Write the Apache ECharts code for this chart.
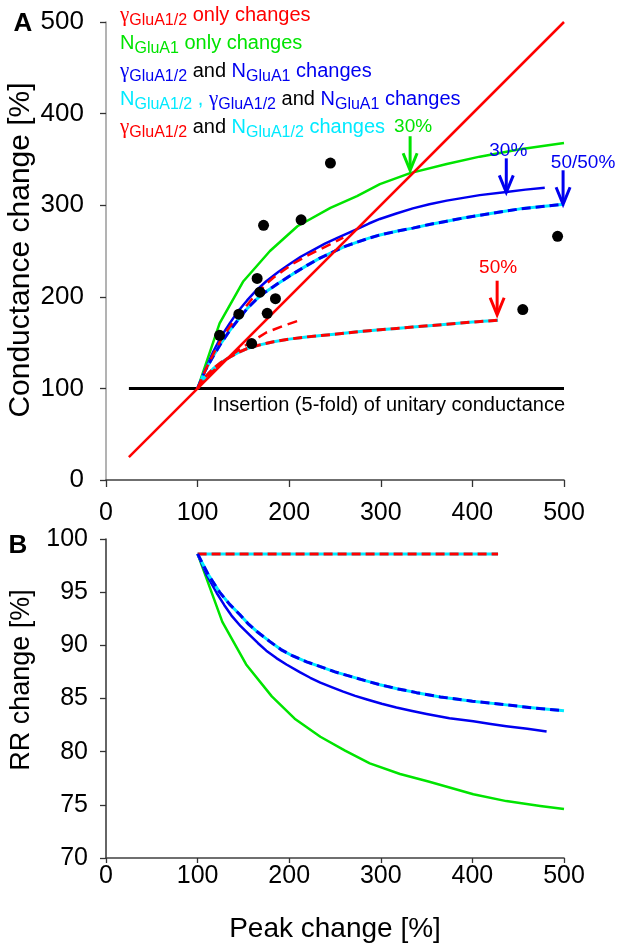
<!DOCTYPE html>
<html><head><meta charset="utf-8">
<script src="https://cdn.jsdelivr.net/npm/echarts@6/dist/echarts.min.js"></script>
<style>html,body{margin:0;padding:0;background:#fff}#c{width:619px;height:948px}</style>
</head><body><div id="c"></div>
<script>
// ---------- data ----------
const identityX = [25, 500];
const baselineX = [25, 500];
const baselineY = [100, 100];

// Panel A: conductance change vs peak change
const greenCond = [[100,100],[124,171],[150,217],[179,250],[209,277],[245,297],[274,310],[299,323],[332,335],[372,345],[408,353],[452,361],[500,368]];
const blueCond = [[100,100],[110,124],[117,140],[126,157],[135,171],[144,184],[154,196],[164,207],[175,217],[188,227],[201,236],[213,244],[226,251],[239,258],[252,264],[263,269],[274,274],[287,280],[299,285],[317,291],[335,296.5],[353,301],[372,305],[390,308],[408,311],[437,314.5],[458,317],[479,319]];
const blueCyanCond = [[100,100],[108,119],[117,135],[126,150],[135,163],[145,176],[154,187],[163,196],[172,204],[181,210],[190,216],[204,225],[219,234],[233,242],[248,249],[261,255],[275,260],[287,264],[299,267.5],[317,271.5],[335,275],[353,279],[372,282.5],[390,286],[408,289],[430,292.5],[452,296],[476,298.5],[500,301]];
const redCyanCond = [[100,100],[108,112],[117,121.5],[126,128.5],[135,134],[144,139],[154,143.5],[168,147.5],[183,151],[200,153.8],[219,156.2],[235,157.8],[252,159.3],[275,161.8],[299,164],[317,165.5],[335,167],[353,168.5],[372,170],[400,172.4],[428,174.5]];
const redShortCond = [[100,100],[107,108.5],[114,116],[122,124],[130,131],[140,138.5],[150,145.5],[162,153],[175,161],[194,168.5],[213,175]];
const redUpperCond = [[100,100],[109,121],[118,139],[126,154],[135,167],[143,178],[150,186],[158,196],[166,205],[175,214],[183,221],[194,229],[204,236],[218,244],[232,251],[246,258],[259,264.5]];
const dots = [[124,158],[145,181],[159,149],[165,220],[168,205],[172,278],[176,182],[185,198],[213,284],[245,346],[455,186],[493,266]];

// arrows (target points in data units) and their labels
const arrowX = [332, 437, 499, 427];
const arrowY = [336, 314, 301, 175];
const arrowLabels = ['30%', '30%', '50/50%', '50%'];

// Panel B: RR change vs peak change
const redCyanRR = [[100,98.6],[428,98.6]];
const greenRR = [[100,98.6],[127,92.2],[153,88.2],[181,85.2],[206,83.1],[234,81.4],[261,80.1],[288,78.9],[321,77.9],[352,77.2],[401,76.0],[437,75.35],[474,74.9],[500,74.6]];
const blueRR = [[100,98.6],[110,96.6],[121,94.9],[129,93.8],[137,92.8],[147,91.8],[157,90.95],[166,90.2],[175,89.5],[186,88.8],[197,88.2],[212,87.45],[223,86.95],[234,86.5],[247,86.05],[259,85.65],[272,85.25],[285,84.9],[301,84.5],[317,84.15],[333,83.85],[350,83.55],[375,83.15],[401,82.85],[420,82.6],[437,82.4],[460,82.15],[481,81.9]];
const blueCyanRR = [[100,98.6],[112,96.6],[124,95.0],[135,93.85],[146,92.9],[155,92.05],[164,91.35],[179,90.35],[191,89.6],[204,89.0],[219,88.45],[234,88.0],[250,87.5],[266,87.1],[282,86.7],[299,86.3],[319,85.9],[339,85.55],[365,85.15],[400,84.75],[437,84.4],[468,84.1],[500,83.85]];

// ---------- styles ----------
const RED = '#ff0000', GREEN = '#00e400', BLUE = '#0000f0', CYAN = '#00eaff', BLACK = '#000';
const SANS = '"Liberation Sans", Arial, sans-serif';
const SERIF = '"Liberation Serif", "Times New Roman", serif';
const arrowColors = [GREEN, BLUE, BLUE, RED];
const arrowStyle = [
  {gap: 2, dx: 3, ty: 43}, {gap: 0, dx: 2, ty: 42}, {gap: 0, dx: 20, ty: 42}, {gap: 5, dx: 1, ty: 47}
];

function lineSeries(data, color, opts) {
  opts = opts || {};
  return {
    type: 'line', data: data, symbol: 'none', silent: true,
    xAxisIndex: opts.g || 0, yAxisIndex: opts.g || 0,
    lineStyle: {color: color, width: opts.w || 2.5, type: opts.dash || 'solid', cap: 'butt', join: 'round'},
    z: opts.z || 2
  };
}

const chart = echarts.init(document.getElementById('c'), null, {renderer: 'canvas'});

function axisCommon(min, max, interval, g, lineColor, labelSize, margin, tickLen) {
  return {
    type: 'value', gridIndex: g, min: min, max: max, interval: interval,
    axisLine: {show: true, onZero: false, lineStyle: {color: lineColor, width: 1.5}},
    axisTick: {show: true, length: tickLen, lineStyle: {color: '#333', width: 1.3}},
    axisLabel: {color: '#000', fontSize: labelSize, fontFamily: SANS, margin: margin},
    splitLine: {show: false}
  };
}

function rich() {
  const cols = {r: RED, g: GREEN, b: BLUE, c: CYAN, k: BLACK};
  const o = {};
  for (const k in cols) {
    o[k] = {fill: cols[k], fontSize: 20, fontFamily: SANS, lineHeight: 26};
    o[k + 's'] = {fill: cols[k], fontSize: 16, fontFamily: SANS, lineHeight: 26, padding: [11, 0, 0, 0]};
    o[k + 'y'] = {fill: cols[k], fontSize: 21, fontFamily: SERIF, lineHeight: 26};
  }
  return o;
}
const richSt = rich();
const legendLines = [
  '{ry|γ}{rs|GluA1/2}{r| only changes}',
  '{g|N}{gs|GluA1}{g| only changes}',
  '{by|γ}{bs|GluA1/2}{k| and }{b|N}{bs|GluA1}{b| changes}',
  '{c|N}{cs|GluA1/2}{c| , }{by|γ}{bs|GluA1/2}{k| and }{b|N}{bs|GluA1}{b| changes}',
  '{ry|γ}{rs|GluA1/2}{k| and }{c|N}{cs|GluA1/2}{c| changes}'
];
const legendY = [15, 43, 71, 99, 127];

const graphics = legendLines.map((t, i) => ({
  type: 'text', x: 120, y: legendY[i], z: 10,
  style: {text: t, rich: richSt, align: 'left', verticalAlign: 'middle'}
}));
graphics.push(
  {type: 'text', x: 565, y: 405, style: {text: 'Insertion (5-fold) of unitary conductance', fill: '#000', fontSize: 20, fontFamily: SANS, align: 'right', verticalAlign: 'middle'}},
  {type: 'text', x: 23, y: 24, style: {text: 'A', fill: '#000', fontSize: 26, fontWeight: 'bold', fontFamily: SANS, align: 'center', verticalAlign: 'middle'}},
  {type: 'text', x: 18, y: 546, style: {text: 'B', fill: '#000', fontSize: 26, fontWeight: 'bold', fontFamily: SANS, align: 'center', verticalAlign: 'middle'}},
  {type: 'text', x: 21, y: 250, rotation: Math.PI / 2, style: {text: 'Conductance change [%]', fill: '#000', fontSize: 30, fontFamily: SANS, align: 'center', verticalAlign: 'middle'}},
  {type: 'text', x: 22, y: 680, rotation: Math.PI / 2, style: {text: 'RR change [%]', fill: '#000', fontSize: 27, fontFamily: SANS, align: 'center', verticalAlign: 'middle'}},
  {type: 'text', x: 335, y: 929, style: {text: 'Peak change [%]', fill: '#000', fontSize: 28, fontFamily: SANS, align: 'center', verticalAlign: 'middle'}}
);

const option = {
  animation: false,
  backgroundColor: '#fff',
  grid: [
    {left: 106, top: 22, width: 458, height: 458},
    {left: 106, top: 539, width: 458, height: 319}
  ],
  xAxis: [
    axisCommon(0, 500, 100, 0, '#404040', 25, 21, 7),
    axisCommon(0, 500, 100, 1, '#404040', 25, 6, 5)
  ],
  yAxis: [
    axisCommon(0, 500, 100, 0, '#9a9a9a', 26, 22, 6),
    axisCommon(70, 100, 5, 1, '#333', 25, 18, 6)
  ],
  graphic: graphics,
  series: [
    lineSeries(baselineX.map((x, i) => [x, baselineY[i]]), BLACK, {w: 3}),
    lineSeries(greenCond, GREEN),
    lineSeries(blueCond, BLUE),
    lineSeries(blueCyanCond, CYAN, {w: 3}),
    lineSeries(blueCyanCond, BLUE, {w: 3, dash: [9, 5], z: 3}),
    lineSeries(redCyanCond, CYAN, {w: 3}),
    lineSeries(redCyanCond, RED, {w: 3, dash: [9, 5], z: 3}),
    lineSeries(redShortCond, RED, {w: 2.5, dash: [10, 6], z: 3}),
    lineSeries(redUpperCond, RED, {w: 2.5, dash: [10, 6], z: 3}),
    lineSeries(identityX.map(x => [x, x]), RED, {z: 4}),
    {
      type: 'scatter', xAxisIndex: 0, yAxisIndex: 0, data: dots, symbol: 'circle', symbolSize: 11,
      itemStyle: {color: '#000', opacity: 1}, z: 5, silent: true
    },
    {
      type: 'custom', xAxisIndex: 0, yAxisIndex: 0, z: 6, silent: true,
      data: arrowX.map((x, i) => [x, arrowY[i]]),
      renderItem: function (params, api) {
        const p = api.coord([api.value(0), api.value(1)]);
        const i = params.dataIndex;
        const s = arrowStyle[i], col = arrowColors[i];
        const x = p[0], tip = p[1] - s.gap;
        return {
          type: 'group', children: [
            {type: 'line', shape: {x1: x, y1: tip - 34, x2: x, y2: tip - 1}, style: {stroke: col, lineWidth: 3}},
            {type: 'polyline', shape: {points: [[x - 7, tip - 17], [x, tip], [x + 7, tip - 17]]}, style: {stroke: col, lineWidth: 3, fill: null}},
            {type: 'text', x: x + s.dx, y: tip - s.ty, style: {text: arrowLabels[i], fill: col, fontSize: 19, fontFamily: SANS, align: 'center', verticalAlign: 'middle'}}
          ]
        };
      }
    },
    // Panel B
    lineSeries(redCyanRR, CYAN, {g: 1, w: 3}),
    lineSeries(redCyanRR, RED, {g: 1, w: 3, dash: [9, 5], z: 3}),
    lineSeries(greenRR, GREEN, {g: 1}),
    lineSeries(blueRR, BLUE, {g: 1}),
    lineSeries(blueCyanRR, CYAN, {g: 1, w: 3}),
    lineSeries(blueCyanRR, BLUE, {g: 1, w: 3, dash: [9, 5], z: 3})
  ]
};
chart.setOption(option);
</script>
</body></html>
